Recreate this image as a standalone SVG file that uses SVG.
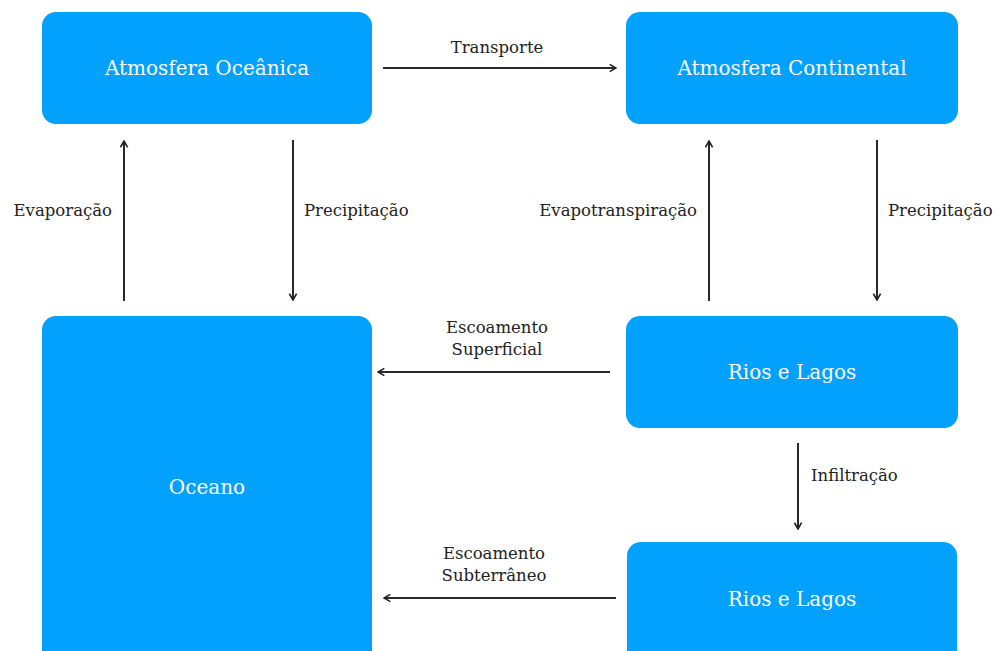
<svg xmlns="http://www.w3.org/2000/svg" width="998" height="651" viewBox="0 0 998 651">
<style>
.box{fill:#03a1fe;}
.bt{font-family:"DejaVu Serif","Liberation Serif",serif;font-size:20px;fill:#ffffff;text-anchor:middle;}
.lbl{font-family:"DejaVu Serif","Liberation Serif",serif;font-size:16.5px;fill:#222222;}
.edge{stroke:#2a2a2a;stroke-width:2;fill:none;marker-end:url(#ah);}
</style>
<defs>
<marker id="ah" viewBox="0 0 10 10" refX="9" refY="5" markerWidth="9" markerHeight="9" orient="auto" markerUnits="userSpaceOnUse">
<path d="M2,1 L9,5 L2,9" fill="none" stroke="#222" stroke-width="1.8"/>
</marker>
</defs>
<rect width="998" height="651" fill="#ffffff"/>
<g id="atm-oceanica"><rect class="box" x="42" y="12" width="330" height="112" rx="14"/><text class="bt" x="207" y="75">Atmosfera Oceânica</text></g>
<g id="atm-continental"><rect class="box" x="626" y="12" width="332" height="112" rx="14"/><text class="bt" x="792" y="75">Atmosfera Continental</text></g>
<g id="oceano"><rect class="box" x="42" y="316" width="330" height="350" rx="14"/><text class="bt" x="207" y="494">Oceano</text></g>
<g id="rios1"><rect class="box" x="626" y="316" width="332" height="112" rx="14"/><text class="bt" x="792" y="379">Rios e Lagos</text></g>
<g id="rios2"><rect class="box" x="627" y="542" width="330" height="124" rx="14"/><text class="bt" x="792" y="606">Rios e Lagos</text></g>
<g id="connectors">
<line class="edge" x1="383" y1="68" x2="616" y2="68"/>
<text class="lbl" x="497" y="53" text-anchor="middle">Transporte</text>
<line class="edge" x1="124" y1="301" x2="124" y2="141"/>
<text class="lbl" x="112" y="216" text-anchor="end">Evaporação</text>
<line class="edge" x1="293" y1="140" x2="293" y2="300"/>
<text class="lbl" x="304" y="216">Precipitação</text>
<line class="edge" x1="709" y1="301" x2="709" y2="141"/>
<text class="lbl" x="697" y="216" text-anchor="end">Evapotranspiração</text>
<line class="edge" x1="877" y1="140" x2="877" y2="300"/>
<text class="lbl" x="888" y="216">Precipitação</text>
<line class="edge" x1="610" y1="372" x2="378" y2="372"/>
<text class="lbl" x="497" y="333" text-anchor="middle">Escoamento</text>
<text class="lbl" x="497" y="355" text-anchor="middle">Superficial</text>
<line class="edge" x1="798" y1="443" x2="798" y2="529"/>
<text class="lbl" x="811" y="481">Infiltração</text>
<line class="edge" x1="616" y1="598" x2="384" y2="598"/>
<text class="lbl" x="494" y="559" text-anchor="middle">Escoamento</text>
<text class="lbl" x="494" y="581" text-anchor="middle">Subterrâneo</text>
</g>
</svg>
